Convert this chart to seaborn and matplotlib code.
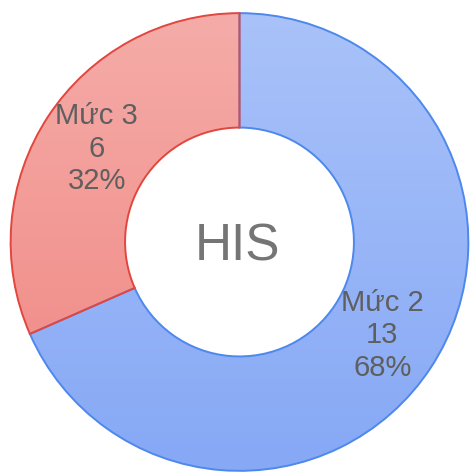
import numpy as np
import matplotlib
matplotlib.use("Agg")
import matplotlib.pyplot as plt
from matplotlib.colors import LinearSegmentedColormap
import seaborn as sns

# Du lieu
muc = ["Mức 2", "Mức 3"]
so_luong = [13, 6]
mau_tren = ["#a9c2f9", "#f5acA8"]
mau_duoi = ["#86a8f5", "#f08581"]
mau_vien = ["#4d88ec", "#e2463e"]
tieu_de = "HIS"

sns.set_theme(style="white")
plt.rcParams["font.family"] = ["Liberation Sans", "DejaVu Sans"]

fig = plt.figure(figsize=(4.72, 4.73), dpi=100)
ax = fig.add_axes([9.5 / 472, 1 / 473, 460 / 472, 460 / 473])

tong = sum(so_luong)
nhan_iter = iter(zip(muc, so_luong))


def nhan(p):
    ten, n = next(nhan_iter)
    return f"{ten}\n{n}\n{p:.0f}%"


wedges, texts, autotexts = ax.pie(
    so_luong,
    startangle=90,
    counterclock=False,
    radius=1,
    autopct=nhan,
    pctdistance=0.745,
    wedgeprops=dict(width=0.5, linewidth=1.4),
    textprops=dict(color="#5f5f5f", fontsize=21, linespacing=1.2),
)

# to mau gradient cho tung phan
grad = np.linspace(0, 1, 256).reshape(-1, 1)
for w, c1, c2, ce in zip(wedges, mau_tren, mau_duoi, mau_vien):
    cmap = LinearSegmentedColormap.from_list("g", [c1, c2])
    im = ax.imshow(grad, cmap=cmap, extent=[-1, 1, -1, 1], origin="upper",
                   aspect="auto", zorder=1)
    im.set_clip_path(w)
    w.set_facecolor("none")
    w.set_edgecolor(ce)
    w.set_zorder(2)

for t in autotexts:
    t.set_zorder(3)

ax.text(-0.01, -0.02, tieu_de, ha="center", va="center", fontsize=37,
        color="#757575", zorder=3)

ax.set_xlim(-1.005, 1.005)
ax.set_ylim(-1.005, 1.005)
ax.set_axis_off()

plt.savefig("out.png", dpi=100)
plt.close()
